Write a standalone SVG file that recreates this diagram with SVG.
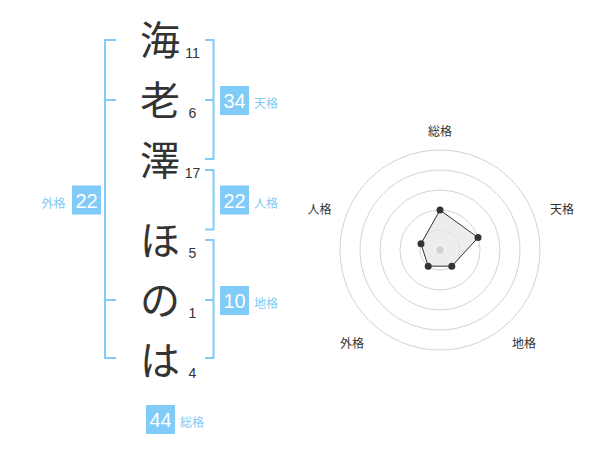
<svg xmlns="http://www.w3.org/2000/svg" width="600" height="470" viewBox="0 0 600 470">
<style>
.ch{font-family:"Noto Sans CJK JP","Noto Sans CJK SC",sans-serif;font-size:40px;fill:#333;text-anchor:middle}
.num{font-family:"Liberation Sans",Arial,sans-serif;font-size:14px;fill:#333;text-anchor:middle}
.br{fill:none;stroke:#80cbf7;stroke-width:2}
.box{fill:#80cbf7}
.bv{font-family:"Liberation Sans",Arial,sans-serif;font-size:20px;fill:#fff;text-anchor:middle}
.bl{font-family:"Noto Sans CJK JP","Noto Sans CJK SC",sans-serif;font-size:12px;fill:#80cbf7}
.rl{font-family:"Noto Sans CJK JP","Noto Sans CJK SC",sans-serif;font-size:12px;fill:#333;text-anchor:middle}
.ring{fill:none;stroke:#d3d3d3;stroke-width:1}
.pt{fill:#333}
</style>
<rect width="600" height="470" fill="#fff"/>
<g id="chars">
<text class="ch" x="160" y="55">海</text>
<text class="ch" x="160" y="115">老</text>
<text class="ch" x="160" y="175">澤</text>
<text class="ch" x="160" y="255">ほ</text>
<text class="ch" x="160" y="315">の</text>
<text class="ch" x="160" y="375">は</text>
</g>
<g id="strokes">
<text class="num" x="192.5" y="58">11</text>
<text class="num" x="192.5" y="118">6</text>
<text class="num" x="192.5" y="178">17</text>
<text class="num" x="192.5" y="258">5</text>
<text class="num" x="192.5" y="318">1</text>
<text class="num" x="192.5" y="378">4</text>
</g>
<g id="connectors">
<path class="br" d="M116,40 H105 V358 H116 M105,100 H116 M105,300 H116"/>
<path class="br" d="M205,40 H213.5 V159 H205 M213.5,100 H205"/>
<path class="br" d="M205,170 H213.5 V229.5 H205"/>
<path class="br" d="M205,240 H213.5 V358 H205 M213.5,300 H205"/>
</g>
<g id="tenkaku">
<rect class="box" x="220" y="86" width="29" height="29"/>
<text class="bv" x="234.5" y="108">34</text>
<text class="bl" x="254" y="108">天格</text>
</g>
<g id="jinkaku">
<rect class="box" x="220" y="185.5" width="29" height="29"/>
<text class="bv" x="234.5" y="207.5">22</text>
<text class="bl" x="254" y="207.5">人格</text>
</g>
<g id="chikaku">
<rect class="box" x="220" y="286" width="29" height="29"/>
<text class="bv" x="234.5" y="308">10</text>
<text class="bl" x="254" y="308">地格</text>
</g>
<g id="gaikaku">
<rect class="box" x="72" y="185.5" width="29" height="29"/>
<text class="bv" x="86.5" y="207.5">22</text>
<text class="bl" x="41.5" y="207.5">外格</text>
</g>
<g id="soukaku">
<rect class="box" x="146" y="405" width="29" height="29"/>
<text class="bv" x="160.5" y="427">44</text>
<text class="bl" x="180" y="427">総格</text>
</g>
<g id="radar">
<circle class="ring" cx="440" cy="250" r="20"/>
<circle class="ring" cx="440" cy="250" r="40"/>
<circle class="ring" cx="440" cy="250" r="60"/>
<circle class="ring" cx="440" cy="250" r="80"/>
<circle class="ring" cx="440" cy="250" r="100"/>
<polygon points="440,210 478,237.6 451.8,266.2 428.2,266.2 421,243.8" fill="#e6e6e6" fill-opacity="0.7" stroke="#333" stroke-width="1"/>
<circle cx="440" cy="250" r="3.5" fill="#cfcfcf"/>
<circle class="pt" cx="440" cy="210" r="3.5"/>
<circle class="pt" cx="478" cy="237.6" r="3.5"/>
<circle class="pt" cx="451.8" cy="266.2" r="3.5"/>
<circle class="pt" cx="428.2" cy="266.2" r="3.5"/>
<circle class="pt" cx="421" cy="243.8" r="3.5"/>
<text class="rl" x="440" y="136">総格</text>
<text class="rl" x="562" y="213.5">天格</text>
<text class="rl" x="319.5" y="213.5">人格</text>
<text class="rl" x="352" y="347.5">外格</text>
<text class="rl" x="524" y="347.5">地格</text>
</g>
</svg>
